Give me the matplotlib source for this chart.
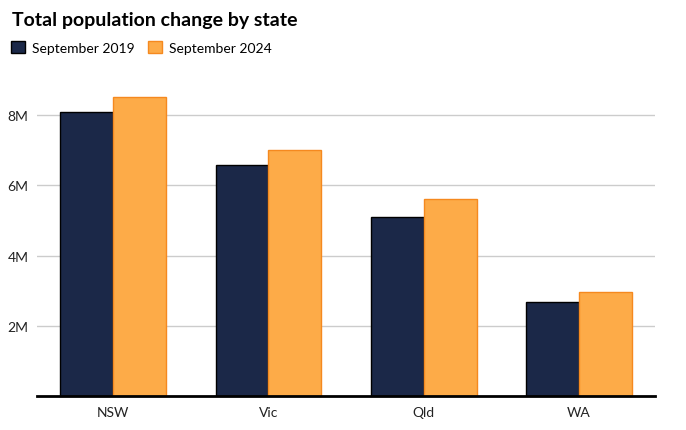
import numpy as np
import matplotlib
matplotlib.use('Agg')
import matplotlib.pyplot as plt
from matplotlib.patches import Patch

states = ['NSW', 'Vic', 'Qld', 'WA']
pop_2019 = [8.09, 6.58, 5.10, 2.68]   # millions
pop_2024 = [8.52, 7.01, 5.61, 2.96]
ytick_vals = [2, 4, 6, 8]
ytick_labels = ['2M', '4M', '6M', '8M']

plt.rcParams['font.family'] = ['Lato', 'DejaVu Sans']

dark = '#1b2848'
orange = '#fdab48'

fig = plt.figure(figsize=(6.86, 4.31), dpi=100)
ax = fig.add_axes([0.054, 0.079, 0.901, 0.733])

x = np.arange(len(states))
w = 0.34
ax.bar(x - w / 2, pop_2019, w, color=dark, edgecolor='black', linewidth=1, zorder=3)
ax.bar(x + w / 2, pop_2024, w, color=orange, edgecolor='#f5891f', linewidth=1, zorder=3)

ax.set_xlim(-0.49, 3.49)
ax.set_ylim(0, 9)
ax.set_yticks(ytick_vals)
ax.set_yticklabels(ytick_labels)
ax.set_xticks(x)
ax.set_xticklabels(states)
ax.tick_params(axis='both', length=0, labelsize=10, colors='#222222')
ax.tick_params(axis='y', pad=6)
ax.tick_params(axis='x', pad=7)
ax.grid(axis='y', color='#cccccc', linewidth=1, zorder=0)
for s in ['top', 'right', 'left']:
    ax.spines[s].set_visible(False)
ax.spines['bottom'].set_linewidth(2)
ax.spines['bottom'].set_color('black')
ax.spines['bottom'].set_zorder(4)

fig.text(0.017, 0.953, 'Total population change by state', fontsize=14,
         fontweight='bold', va='center', ha='left')

handles = [Patch(facecolor=dark, edgecolor='black', label='September 2019'),
           Patch(facecolor=orange, edgecolor='#f5891f', label='September 2024')]
fig.legend(handles=handles, loc='center left', bbox_to_anchor=(0.008, 0.888),
           ncol=2, frameon=False, fontsize=10, handlelength=1.0, handleheight=1.0,
           handletextpad=0.5, columnspacing=1.0, borderaxespad=0)

plt.savefig('out.png', dpi=100)
